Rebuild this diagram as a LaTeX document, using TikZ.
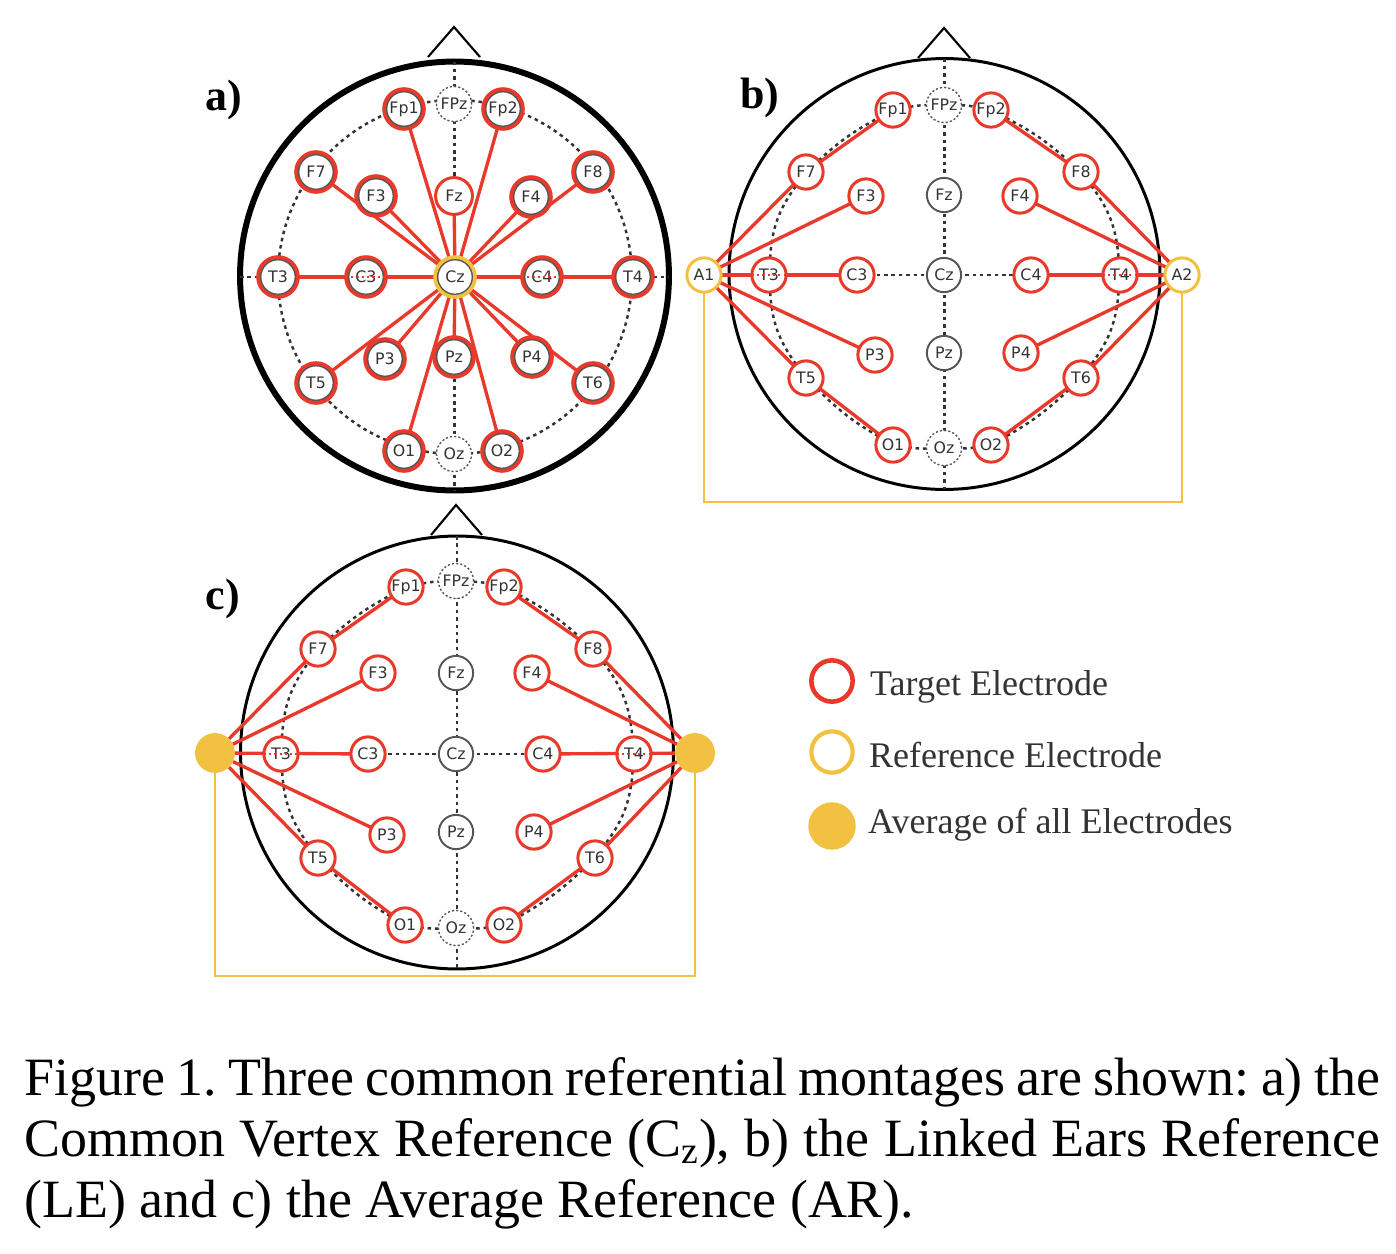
\documentclass[tikz,border=0pt]{standalone}
\usepackage{fontspec}
\setmainfont{Liberation Serif}
\setsansfont{DejaVu Sans}
\usetikzlibrary{backgrounds}
\definecolor{elecred}{HTML}{E8392B}
\definecolor{elecyellow}{HTML}{F2C141}
\definecolor{elecgray}{HTML}{555555}
\definecolor{labelgray}{HTML}{333333}
\tikzset{
    elec/.style={circle,fill=white,inner sep=0pt,outer sep=0pt,text=labelgray,font=\sffamily\fontsize{9}{9}\selectfont,minimum size=19.5pt},
    target/.style={elec,draw=elecred,line width=1.7pt},
    neutral/.style={elec,draw=elecgray,line width=1.1pt},
    ghost/.style={elec,draw=elecgray,line width=0.8pt,dash pattern=on 1.2pt off 1.2pt,minimum size=20pt},
    reference/.style={elec,draw=elecyellow,line width=1.7pt},
    average/.style={circle,fill=elecyellow,inner sep=0pt,outer sep=0pt,minimum size=22.7pt},
    innerring/.style={path picture={\draw[elecgray,line width=1.1pt] (path picture bounding box.center) circle (10pt);}},
    bigtarget/.style={target,innerring,minimum size=22.7pt,line width=2.1pt},
    bigreference/.style={reference,innerring,minimum size=22.7pt,line width=2.1pt},
    head/.style={circle,draw=black,inner sep=0pt,outer sep=0pt},
    ring/.style={circle,draw=labelgray,line width=1.4pt,dash pattern=on 2pt off 2.2pt,inner sep=0pt,outer sep=0pt},
    axis/.style={draw=labelgray,line width=1.4pt,dash pattern=on 2pt off 2.2pt},
    nose/.style={draw=black,line width=1.2pt},
    redline/.style={draw=elecred,line width=1.9pt},
    reddots/.style={draw=elecred,line width=1pt,dash pattern=on 1.2pt off 1.8pt},
    yellowline/.style={draw=elecyellow,line width=1.6pt},
    panel/.style={font=\bfseries\fontsize{25}{25}\selectfont},
    legendtext/.style={anchor=west,font=\fontsize{20.5}{20.5}\selectfont,text=labelgray}
}
\begin{document}
\begin{tikzpicture}[x=0.02cm,y=-0.02cm]
    \useasboundingbox (0,0) rectangle (1396,1254);

    \node[panel] (alabel) at (224,100) {a)};
    \node[panel] (blabel) at (760,98) {b)};
    \node[panel] (clabel) at (223,599) {c)};

    \node[bigtarget] (aFp1) at (404,109) {Fp1};
    \node[ghost] (aFPz) at (454,104) {FPz};
    \node[bigtarget] (aFp2) at (503,109) {Fp2};
    \node[bigtarget] (aF7) at (316,172) {F7};
    \node[bigtarget] (aF3) at (376,196) {F3};
    \node[target,minimum size=21pt] (aFz) at (454,196) {Fz};
    \node[bigtarget] (aF4) at (531,197) {F4};
    \node[bigtarget] (aF8) at (593,172) {F8};
    \node[bigtarget] (aT3) at (278,277) {T3};
    \node[bigtarget] (aC3) at (366,277) {C3};
    \node[bigreference] (aCz) at (455,277) {Cz};
    \node[bigtarget] (aC4) at (542,277) {C4};
    \node[bigtarget] (aT4) at (633,277) {T4};
    \node[bigtarget] (aT5) at (316,383) {T5};
    \node[bigtarget] (aP3) at (385,359) {P3};
    \node[bigtarget] (aPz) at (454,357) {Pz};
    \node[bigtarget] (aP4) at (532,357) {P4};
    \node[bigtarget] (aT6) at (593,383) {T6};
    \node[bigtarget] (aO1) at (404,451) {O1};
    \node[ghost] (aOz) at (454,454) {Oz};
    \node[bigtarget] (aO2) at (502,451) {O2};

    \node[target] (bFp1) at (893,110) {Fp1};
    \node[ghost] (bFPz) at (944,105) {FPz};
    \node[target] (bFp2) at (991,110) {Fp2};
    \node[target] (bF7) at (806,172) {F7};
    \node[target] (bF3) at (866,196) {F3};
    \node[neutral] (bFz) at (944,195) {Fz};
    \node[target] (bF4) at (1020,196) {F4};
    \node[target] (bF8) at (1081,172) {F8};
    \node[reference] (bA1) at (704,275) {A1};
    \node[target] (bT3) at (769,275) {T3};
    \node[target] (bC3) at (857,275) {C3};
    \node[neutral] (bCz) at (944,275) {Cz};
    \node[target] (bC4) at (1031,275) {C4};
    \node[target] (bT4) at (1120,275) {T4};
    \node[reference] (bA2) at (1182,275) {A2};
    \node[target] (bT5) at (806,378) {T5};
    \node[target] (bP3) at (875,355) {P3};
    \node[neutral] (bPz) at (944,353) {Pz};
    \node[target] (bP4) at (1021,353) {P4};
    \node[target] (bT6) at (1081,378) {T6};
    \node[target] (bO1) at (893,445) {O1};
    \node[ghost] (bOz) at (944,448) {Oz};
    \node[target] (bO2) at (991,445) {O2};

    \node[target] (cFp1) at (406,587) {Fp1};
    \node[ghost] (cFPz) at (456,581) {FPz};
    \node[target] (cFp2) at (504,587) {Fp2};
    \node[target] (cF7) at (318,649) {F7};
    \node[target] (cF3) at (378,673) {F3};
    \node[neutral] (cFz) at (456,673) {Fz};
    \node[target] (cF4) at (532,673) {F4};
    \node[target] (cF8) at (593,649) {F8};
    \node[average] (cL) at (215,753) {};
    \node[target] (cT3) at (281,754) {T3};
    \node[target] (cC3) at (368,754) {C3};
    \node[neutral] (cCz) at (456,754) {Cz};
    \node[target] (cC4) at (543,754) {C4};
    \node[target] (cT4) at (634,754) {T4};
    \node[average] (cR) at (695,753) {};
    \node[target] (cT5) at (318,858) {T5};
    \node[target] (cP3) at (387,835) {P3};
    \node[neutral] (cPz) at (456,832) {Pz};
    \node[target] (cP4) at (534,832) {P4};
    \node[target] (cT6) at (595,858) {T6};
    \node[target] (cO1) at (405,925) {O1};
    \node[ghost] (cOz) at (456,928) {Oz};
    \node[target] (cO2) at (504,925) {O2};

    \coordinate (anoseL) at (428,57);
    \coordinate (anoseT) at (454,27);
    \coordinate (anoseR) at (480,57);
    \coordinate (bnoseL) at (918,58);
    \coordinate (bnoseT) at (944,28);
    \coordinate (bnoseR) at (970,58);
    \coordinate (cnoseL) at (431,535);
    \coordinate (cnoseT) at (456,505);
    \coordinate (cnoseR) at (482,535);
    \coordinate (bbox) at (943,502);
    \coordinate (cbox) at (455,976);

    \begin{scope}[on background layer]
        \node[head,line width=3.4pt,minimum size=8.58cm] (ahead) at (454.5,276) {};
        \node[ring,minimum size=7.08cm] (aring) at (455,277) {};
        \draw[nose] (anoseL) -- (anoseT) -- (anoseR);
        \draw[axis] (ahead.north) -- (ahead.south);
        \draw[axis] (ahead.west |- aCz) -- (ahead.east |- aCz);

        \node[head,line width=1.7pt,minimum size=8.62cm] (bhead) at (944.5,274) {};
        \draw[nose] (bnoseL) -- (bnoseT) -- (bnoseR);
        \draw[axis] (bhead.north) -- (bhead.south);
        \draw[axis] (bhead.west |- bCz) -- (bhead.east |- bCz);
        \draw[axis] (bT3) to[bend left=16] (bF7);
        \draw[axis] (bF7) to[bend left=7] (bFp1);
        \draw[axis] (bFp1) to[bend left=5] (bFPz);
        \draw[axis] (bFPz) to[bend left=5] (bFp2);
        \draw[axis] (bFp2) to[bend left=7] (bF8);
        \draw[axis] (bF8) to[bend left=16] (bT4);
        \draw[axis] (bT4) to[bend left=16] (bT6);
        \draw[axis] (bT6) to[bend left=7] (bO2);
        \draw[axis] (bO2) to[bend left=5] (bOz);
        \draw[axis] (bOz) to[bend left=5] (bO1);
        \draw[axis] (bO1) to[bend left=7] (bT5);
        \draw[axis] (bT5) to[bend left=16] (bT3);

        \node[head,line width=1.7pt,minimum size=8.66cm] (chead) at (457,752.5) {};
        \draw[nose] (cnoseL) -- (cnoseT) -- (cnoseR);
        \draw[axis] (chead.north) -- (chead.south);
        \draw[axis] (chead.west |- cCz) -- (chead.east |- cCz);
        \draw[axis] (cT3) to[bend left=16] (cF7);
        \draw[axis] (cF7) to[bend left=7] (cFp1);
        \draw[axis] (cFp1) to[bend left=5] (cFPz);
        \draw[axis] (cFPz) to[bend left=5] (cFp2);
        \draw[axis] (cFp2) to[bend left=7] (cF8);
        \draw[axis] (cF8) to[bend left=16] (cT4);
        \draw[axis] (cT4) to[bend left=16] (cT6);
        \draw[axis] (cT6) to[bend left=7] (cO2);
        \draw[axis] (cO2) to[bend left=5] (cOz);
        \draw[axis] (cOz) to[bend left=5] (cO1);
        \draw[axis] (cO1) to[bend left=7] (cT5);
        \draw[axis] (cT5) to[bend left=16] (cT3);

        \draw[redline] (aCz) -- (aFp1);
        \draw[redline] (aCz) -- (aFp2);
        \draw[redline] (aCz) -- (aF7);
        \draw[redline] (aCz) -- (aF3);
        \draw[redline] (aCz) -- (aFz);
        \draw[redline] (aCz) -- (aF4);
        \draw[redline] (aCz) -- (aF8);
        \draw[redline] (aCz) -- (aT3);
        \draw[redline] (aCz) -- (aT4);
        \draw[redline] (aCz) -- (aT5);
        \draw[redline] (aCz) -- (aP3);
        \draw[redline] (aCz) -- (aPz);
        \draw[redline] (aCz) -- (aP4);
        \draw[redline] (aCz) -- (aT6);
        \draw[redline] (aCz) -- (aO1);
        \draw[redline] (aCz) -- (aO2);

        \draw[redline] (bFp1) -- (bF7);
        \draw[redline] (bA1) -- (bF7);
        \draw[redline] (bA1) -- (bF3);
        \draw[redline] (bA1) -- (bC3);
        \draw[redline] (bA1) -- (bP3);
        \draw[redline] (bA1) -- (bT5);
        \draw[redline] (bT5) -- (bO1);
        \draw[redline] (bFp2) -- (bF8);
        \draw[redline] (bA2) -- (bF8);
        \draw[redline] (bA2) -- (bF4);
        \draw[redline] (bA2) -- (bC4);
        \draw[redline] (bA2) -- (bP4);
        \draw[redline] (bA2) -- (bT6);
        \draw[redline] (bT6) -- (bO2);
        \draw[yellowline] (bA1.south) |- (bbox) -| (bA2.south);

        \draw[redline] (cFp1) -- (cF7);
        \draw[redline] (cL) -- (cF7);
        \draw[redline] (cL) -- (cF3);
        \draw[redline] (cL) -- (cC3);
        \draw[redline] (cL) -- (cP3);
        \draw[redline] (cL) -- (cT5);
        \draw[redline] (cT5) -- (cO1);
        \draw[redline] (cFp2) -- (cF8);
        \draw[redline] (cR) -- (cF8);
        \draw[redline] (cR) -- (cF4);
        \draw[redline] (cR) -- (cC4);
        \draw[redline] (cR) -- (cP4);
        \draw[redline] (cR) -- (cT6);
        \draw[redline] (cT6) -- (cO2);
        \draw[yellowline] (cL.south) |- (cbox) -| (cR.south);
    \end{scope}

    \draw[reddots] (aC3.west) -- (aC3.east);
    \draw[reddots] (aC4.west) -- (aC4.east);
    \draw[reddots] (bT3.west) -- (bT3.east);
    \draw[reddots] (bT4.west) -- (bT4.east);
    \draw[reddots] (cT3.west) -- (cT3.east);
    \draw[reddots] (cT4.west) -- (cT4.east);

    \node[circle,draw=elecred,line width=2.6pt,minimum size=23.5pt,inner sep=0pt] (keytarget) at (832,681) {};
    \node[circle,draw=elecyellow,line width=2.4pt,minimum size=23.5pt,inner sep=0pt] (keyreference) at (832,752) {};
    \node[circle,fill=elecyellow,minimum size=27pt,inner sep=0pt] (keyaverage) at (832,826) {};
    \node[legendtext] (texttarget) at (864,687) {Target Electrode};
    \node[legendtext] (textreference) at (863,755) {Reference Electrode};
    \node[legendtext] (textaverage) at (862,825) {Average of all Electrodes};

    \node[anchor=north west,inner sep=0pt,text width=27.12cm,align=justify,font=\fontsize{30.7}{34.8}\selectfont] (caption) at (24,1057) {\frenchspacing Figure 1. Three common referential montages are shown: a) the\linebreak Common Vertex Reference (C\textsubscript{z}), b) the Linked Ears Reference\linebreak (LE) and c) the Average Reference (AR).};
\end{tikzpicture}
\end{document}
